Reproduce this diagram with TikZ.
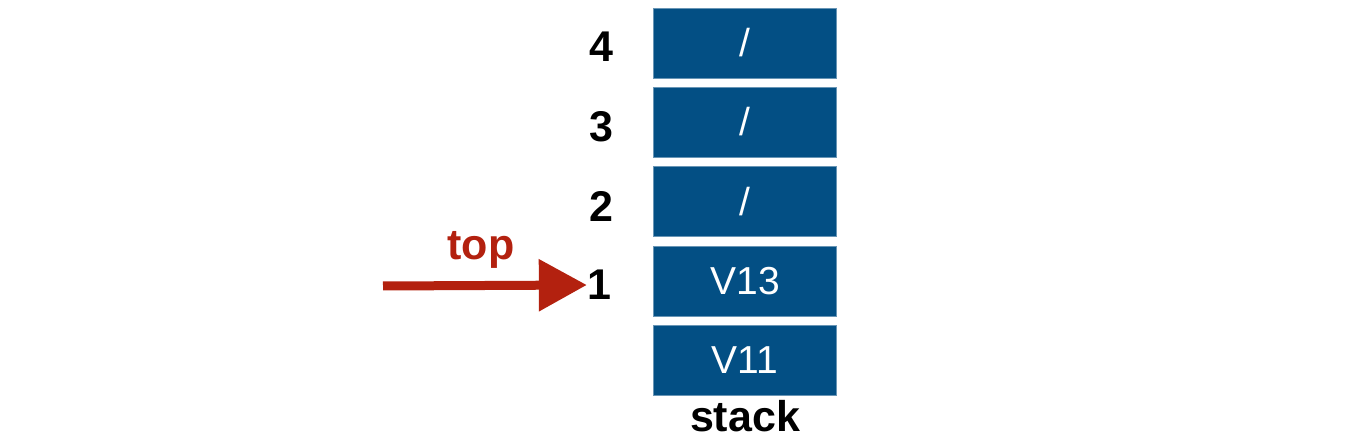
\documentclass[tikz,border=0pt]{standalone}
\usepackage{fontspec}
\setmainfont{Liberation Sans}
\usetikzlibrary{arrows.meta}
\definecolor{boxblue}{HTML}{034F84}
\definecolor{arrowred}{HTML}{B3210F}
\begin{document}
\begin{tikzpicture}[x=1pt,y=-1pt,
  cell/.style={draw=boxblue!60!white, line width=0.8pt, fill=boxblue, minimum width=183pt, minimum height=70pt, inner sep=0pt, text=white, font=\fontsize{39}{39}\selectfont},
  idx/.style={font=\fontsize{43}{43}\selectfont\bfseries, text=black, inner sep=0pt}]
\useasboundingbox (0,0) rectangle (1352,446);
\node[cell] (c4) at (745,43) {/};
\node[cell] (c3) at (745,122) {/};
\node[cell] (c2) at (745,201.5) {/};
\node[cell] (c1) at (745,281) {V13};
\node[cell] (c0) at (745,360) {V11};
\node[idx, anchor=base] (stack) at (745,431) {stack};
\node[idx] (n4) at (601,47) {4};
\node[idx] (n3) at (601,127) {3};
\node[idx] (n2) at (601,206) {2};
\node[idx] (n1) at (599,285) {1};
\coordinate (start) at (383,286);
\draw[arrowred, line width=9pt, -{Triangle[length=48pt,width=50pt]}] (start) -- (n1.west);
\node[idx, text=arrowred, anchor=base] (top) at (481,260) {top};
\end{tikzpicture}
\end{document}
